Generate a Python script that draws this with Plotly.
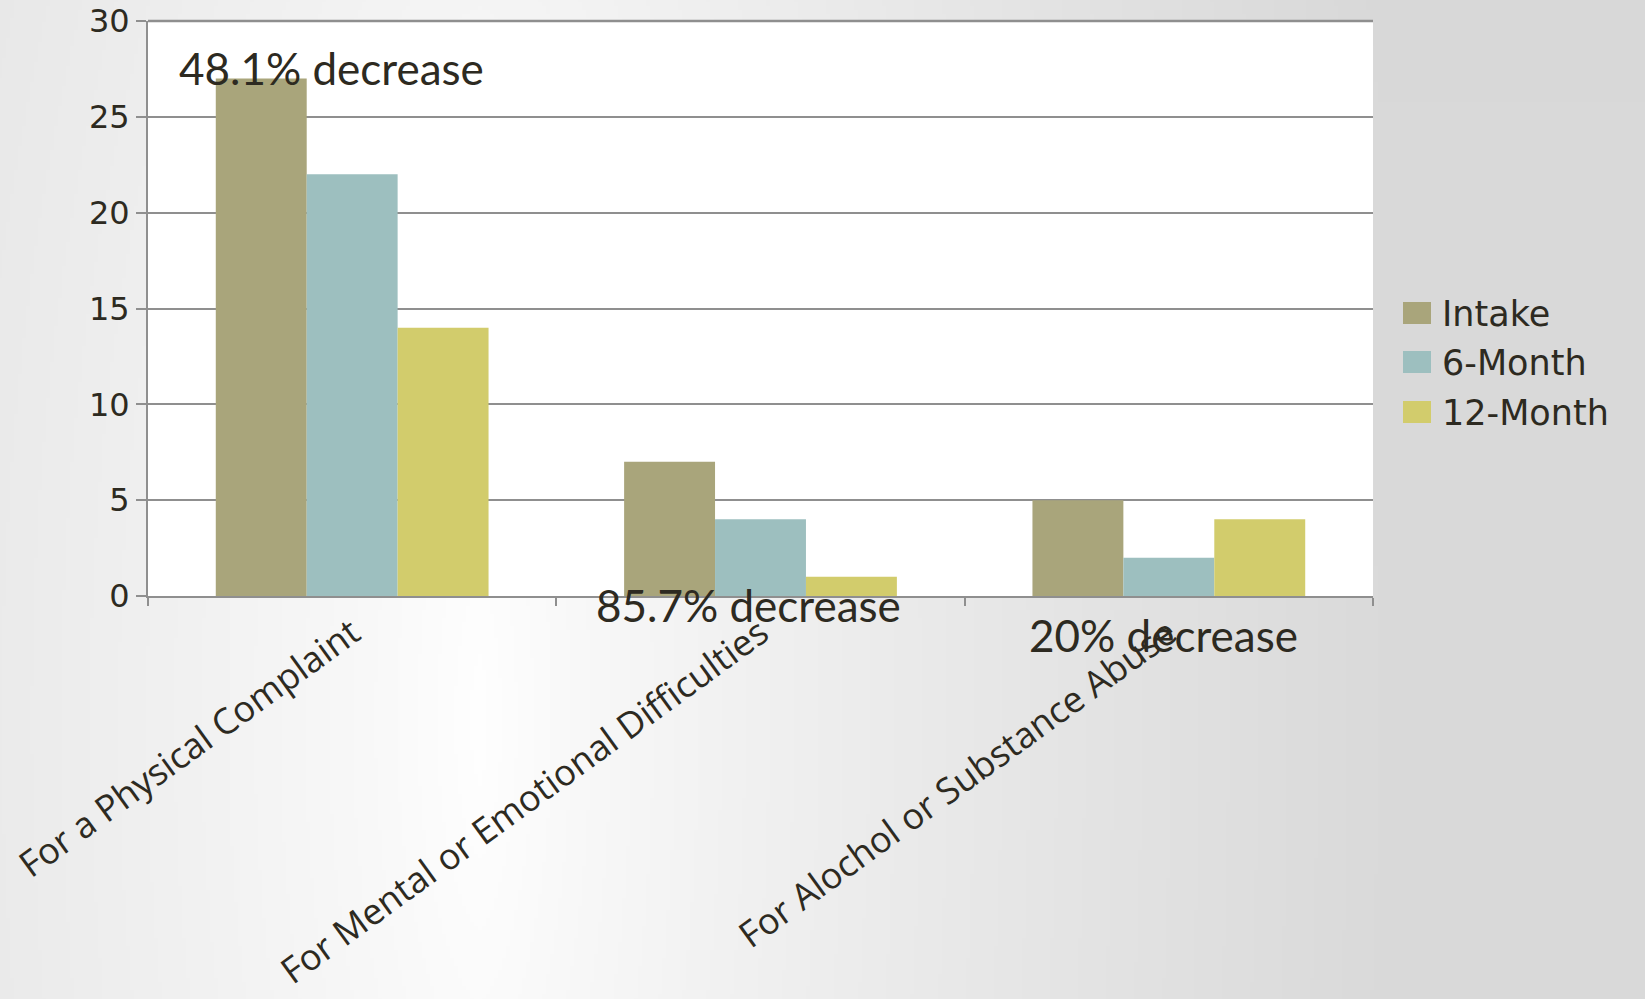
import base64, struct, zlib
import numpy as np
import plotly.graph_objects as go

# ---------------- data ----------------
categories = ["For a Physical Complaint",
              "For Mental or Emotional Difficulties",
              "For Alochol or Substance Abuse"]
series_names = ["Intake", "6-Month", "12-Month"]
intake = [27, 7, 5]
month6 = [22, 4, 2]
month12 = [14, 1, 4]
annotation_texts = ["48.1% decrease", "85.7% decrease", "20% decrease"]

colors = ["#A9A57B", "#9DBFBF", "#D2CC6C"]
text_color = "#2d2a21"
grid_color = "#8f8f8f"

W, H = 1645, 999
L, R, T, B = 148, 1373, 21, 596   # plot area in px
PW, PH = R - L, B - T


def px(x):
    return (x - L) / PW


def py(y):
    return (B - y) / PH


# ---------------- background gradient image ----------------
OV = 20  # overscan in px


def gradient_png(w, h, scale):
    xs = (np.arange(w) + 0.5) * scale - OV
    ys = (np.arange(h) + 0.5) * scale - OV
    X, Y = np.meshgrid(xs, ys)
    cx, cy = 480.0, 720.0
    dx = X - cx
    fx = np.where(dx < 0,
                  20.0 * (np.abs(dx) / 480.0) ** 0.8,
                  37.0 * np.minimum(1.0, np.maximum(dx, 0) / 900.0) ** 0.8)
    fy = np.abs(Y - cy) * 0.014
    drop = np.sqrt(fx ** 2 + fy ** 2)
    val = np.clip(255 - drop, 0, 255).astype(np.uint8)
    raw = b"".join(b"\x00" + val[i].tobytes() for i in range(h))

    def chunk(t, d):
        c = struct.pack(">I", len(d)) + t + d
        return c + struct.pack(">I", zlib.crc32(t + d) & 0xffffffff)

    png = b"\x89PNG\r\n\x1a\n"
    png += chunk(b"IHDR", struct.pack(">IIBBBBB", w, h, 8, 0, 0, 0, 0))
    png += chunk(b"IDAT", zlib.compress(raw, 9))
    png += chunk(b"IEND", b"")
    return "data:image/png;base64," + base64.b64encode(png).decode()


GW, GH = (W + 2 * OV) // 4 + 1, (H + 2 * OV) // 4 + 1
bg_src = gradient_png(GW, GH, 4.0)

# ---------------- figure ----------------
fig = go.Figure()
for name, vals, col in zip(series_names, [intake, month6, month12], colors):
    fig.add_trace(go.Bar(x=categories, y=vals, name=name,
                         marker=dict(color=col, line=dict(width=0)),
                         showlegend=False))

fig.update_layout(
    width=W, height=H,
    margin=dict(l=L, r=W - R, t=T, b=H - B, pad=0, autoexpand=False),
    paper_bgcolor="#e3e3e3",
    plot_bgcolor="white",
    barmode="group",
    bargap=0.332,
    bargroupgap=0,
    showlegend=False,
    font=dict(family="DejaVu Sans", color=text_color),
)

fig.update_yaxes(
    automargin=False,
    range=[0, 30], dtick=5, tick0=0,
    showgrid=True, gridcolor=grid_color, gridwidth=2,
    showline=True, linecolor=grid_color, linewidth=2,
    ticks="outside", ticklen=10, tickwidth=2, tickcolor=grid_color,
    tickfont=dict(family="DejaVu Sans", size=32, color=text_color),
    zeroline=False,
)
fig.update_xaxes(
    automargin=False,
    showline=True, linecolor=grid_color, linewidth=2,
    ticks="outside", ticklen=8, tickwidth=2, tickcolor=grid_color,
    tickson="boundaries",
    tickangle=-36,
    tickfont=dict(family="Open Sans", size=36, color=text_color),
    showgrid=False,
)

fig.add_layout_image(dict(
    source=bg_src, xref="paper", yref="paper",
    x=px(-OV), y=py(-OV), sizex=(GW * 4) / PW, sizey=(GH * 4) / PH,
    xanchor="left", yanchor="top", sizing="stretch", layer="below",
))

# white plot area over the background image
fig.add_shape(type="rect", xref="paper", yref="paper", x0=0, x1=1, y0=0, y1=1,
              fillcolor="white", line=dict(width=0), layer="below")
# top border line at 30
fig.add_shape(type="line", xref="paper", yref="paper", x0=0, x1=1, y0=1, y1=1,
              line=dict(color=grid_color, width=2.5), layer="above")

# ---------------- manual legend ----------------
legend_y = [313, 362, 412]
for name, col, yc in zip(series_names, colors, legend_y):
    fig.add_shape(type="rect", xref="paper", yref="paper",
                  x0=px(1403), x1=px(1431), y0=py(yc - 11), y1=py(yc + 11),
                  fillcolor=col, line=dict(width=0))
    fig.add_annotation(text=name, xref="paper", yref="paper",
                       x=px(1440), y=py(yc + 1), xanchor="left", yanchor="middle",
                       showarrow=False,
                       font=dict(family="DejaVu Sans", size=35, color=text_color))

# ---------------- decrease annotations ----------------
ann_pos = [(177, 68), (594, 605), (1027, 635)]
for txt, (ax_, ay_) in zip(annotation_texts, ann_pos):
    fig.add_annotation(text=txt, xref="paper", yref="paper",
                       x=px(ax_), y=py(ay_), xanchor="left", yanchor="middle",
                       showarrow=False,
                       font=dict(family="Lato", size=44, color=text_color))

fig.write_html("out.html",
               post_script="document.body.style.margin='0';document.body.style.overflow='hidden';")
